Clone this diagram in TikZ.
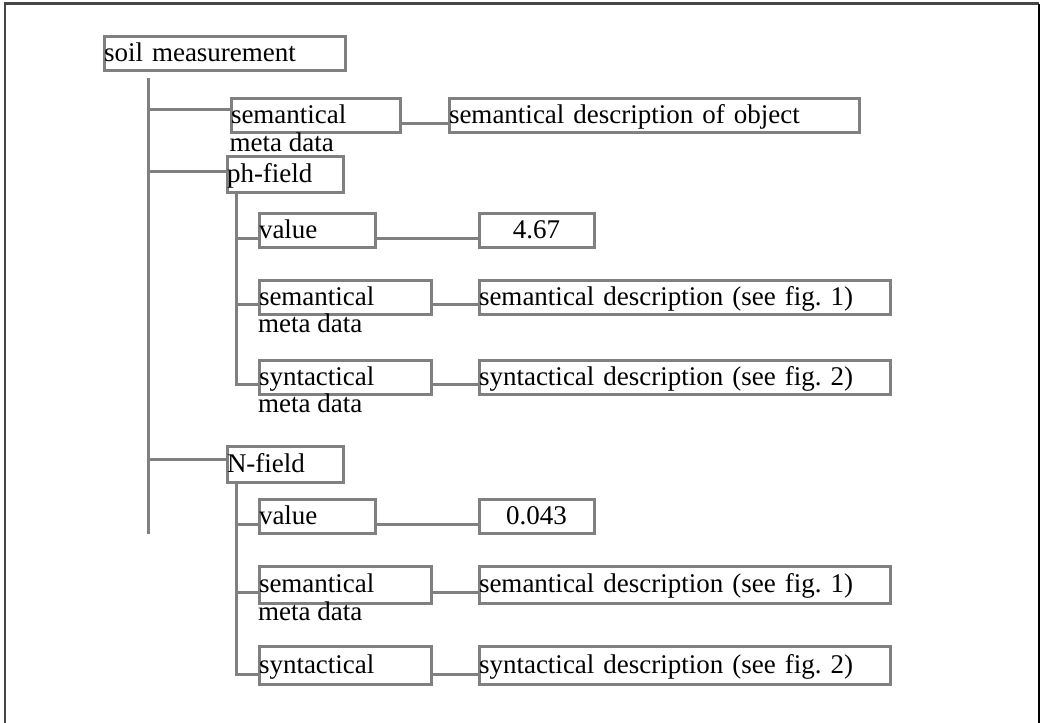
\documentclass[tikz,border=0pt]{standalone}
\usepackage{fontspec}
\setmainfont{Liberation Serif}
\usepackage{tikz}
\usetikzlibrary{positioning}

\definecolor{boxgray}{RGB}{128,128,128}
\definecolor{framegray}{RGB}{70,70,70}

\tikzset{
	fbox/.style = {draw = boxgray, line width = 3pt, anchor = north west, minimum height = 34pt,
		inner xsep = 0pt, inner ysep = 0pt, text height = 21pt, text depth = 5pt, align = left},
	metatext/.style = {anchor = base west, inner sep = 0pt},
	link/.style = {draw = boxgray, line width = 3pt}
}

\begin{document}
\frenchspacing
\begin{tikzpicture}[x = 1pt, y = -1pt, font = \fontsize{27}{30}\selectfont]
			\useasboundingbox (0,0) rectangle (1042,723);

			\begin{scope}
				\draw [framegray, line width = 2.5pt] (5,723) -- (5,3.5) -- (1039,3.5);
				\draw [black, line width = 2pt] (1039,3.5) -- (1039,723);
			\end{scope}

			\begin{scope}
				\node [fbox, text width = 241pt] (soil) at (102.5,34.5) {soil measurement};
				\node [fbox, text width = 169pt] (sem1) at (229.5,96.5) {semantical};
				\node [metatext] (sem1b) at (229.5,151) {meta data};
				\node [fbox, text width = 410pt] (desc1) at (447.5,96.5) {semantical description of object};
				\node [fbox, text width = 116pt, minimum height = 36pt] (ph) at (225.5,154.5) {ph-field};
				\node [fbox, text width = 116pt, minimum height = 36pt] (nf) at (225.5,444.5) {N-field};
			\end{scope}

			\begin{scope}
				\node [fbox, text width = 116pt] (val1) at (257.5,211.5) {value};
				\node [fbox, text width = 115pt, align = center] (num1) at (477.5,211.5) {4.67};
				\node [fbox, text width = 172pt] (sem2) at (257.5,278.5) {semantical};
				\node [metatext] (sem2b) at (258,332) {meta data};
				\node [fbox, text width = 411pt] (desc2) at (477.5,278.5) {semantical description (see fig. 1)};
				\node [fbox, text width = 172pt] (syn2) at (257.5,358.5) {syntactical};
				\node [metatext] (syn2b) at (258,412) {meta data};
				\node [fbox, text width = 411pt] (desc3) at (477.5,358.5) {syntactical description (see fig. 2)};
			\end{scope}

			\begin{scope}
				\node [fbox, text width = 116pt] (val2) at (257.5,497.5) {value};
				\node [fbox, text width = 115pt, align = center] (num2) at (477.5,497.5) {0.043};
				\node [fbox, text width = 172pt, minimum height = 37pt] (sem3) at (257.5,564.5) {semantical};
				\node [metatext] (sem3b) at (258,620) {meta data};
				\node [fbox, text width = 411pt, minimum height = 37pt] (desc4) at (477.5,564.5) {semantical description (see fig. 1)};
				\node [fbox, text width = 172pt, minimum height = 38pt] (syn3) at (257.5,644.5) {syntactical};
				\node [fbox, text width = 411pt, minimum height = 38pt] (desc5) at (477.5,644.5) {syntactical description (see fig. 2)};
			\end{scope}

			\begin{scope}[link]
				\coordinate (trunktop) at (148,78);
				\coordinate (trunkend) at (148,534);
				\draw (trunktop) -- (trunkend);
				\draw (trunktop) |- ([yshift = 5.5pt]sem1.west);
				\draw (trunktop) |- ([yshift = 2.5pt]ph.west);
				\draw (trunktop) |- ([yshift = 4.5pt]nf.west);
				\draw ([yshift = -8pt]sem1.east) -- ([yshift = -8pt]desc1.west);
			\end{scope}

			\begin{scope}[link]
				\coordinate (phroot) at ([xshift = 10.5pt]ph.south west);
				\draw (phroot) |- ([yshift = -8.5pt]val1.west);
				\draw (phroot) |- ([yshift = -7.5pt]sem2.west);
				\draw (phroot) |- ([yshift = -7pt]syn2.west);
				\draw ([yshift = -8.5pt]val1.east) -- ([yshift = -8.5pt]num1.west);
				\draw ([yshift = -7.5pt]sem2.east) -- ([yshift = -7.5pt]desc2.west);
				\draw ([yshift = -7pt]syn2.east) -- ([yshift = -7pt]desc3.west);
			\end{scope}

			\begin{scope}[link]
				\coordinate (nroot) at ([xshift = 10.5pt]nf.south west);
				\draw (nroot) |- ([yshift = -8.5pt]val2.west);
				\draw (nroot) |- ([yshift = -8pt]sem3.west);
				\draw (nroot) |- ([yshift = -9.5pt]syn3.west);
				\draw ([yshift = -8.5pt]val2.east) -- ([yshift = -8.5pt]num2.west);
				\draw ([yshift = -8pt]sem3.east) -- ([yshift = -8pt]desc4.west);
				\draw ([yshift = -9.5pt]syn3.east) -- ([yshift = -9.5pt]desc5.west);
			\end{scope}
		\end{tikzpicture}
\end{document}
